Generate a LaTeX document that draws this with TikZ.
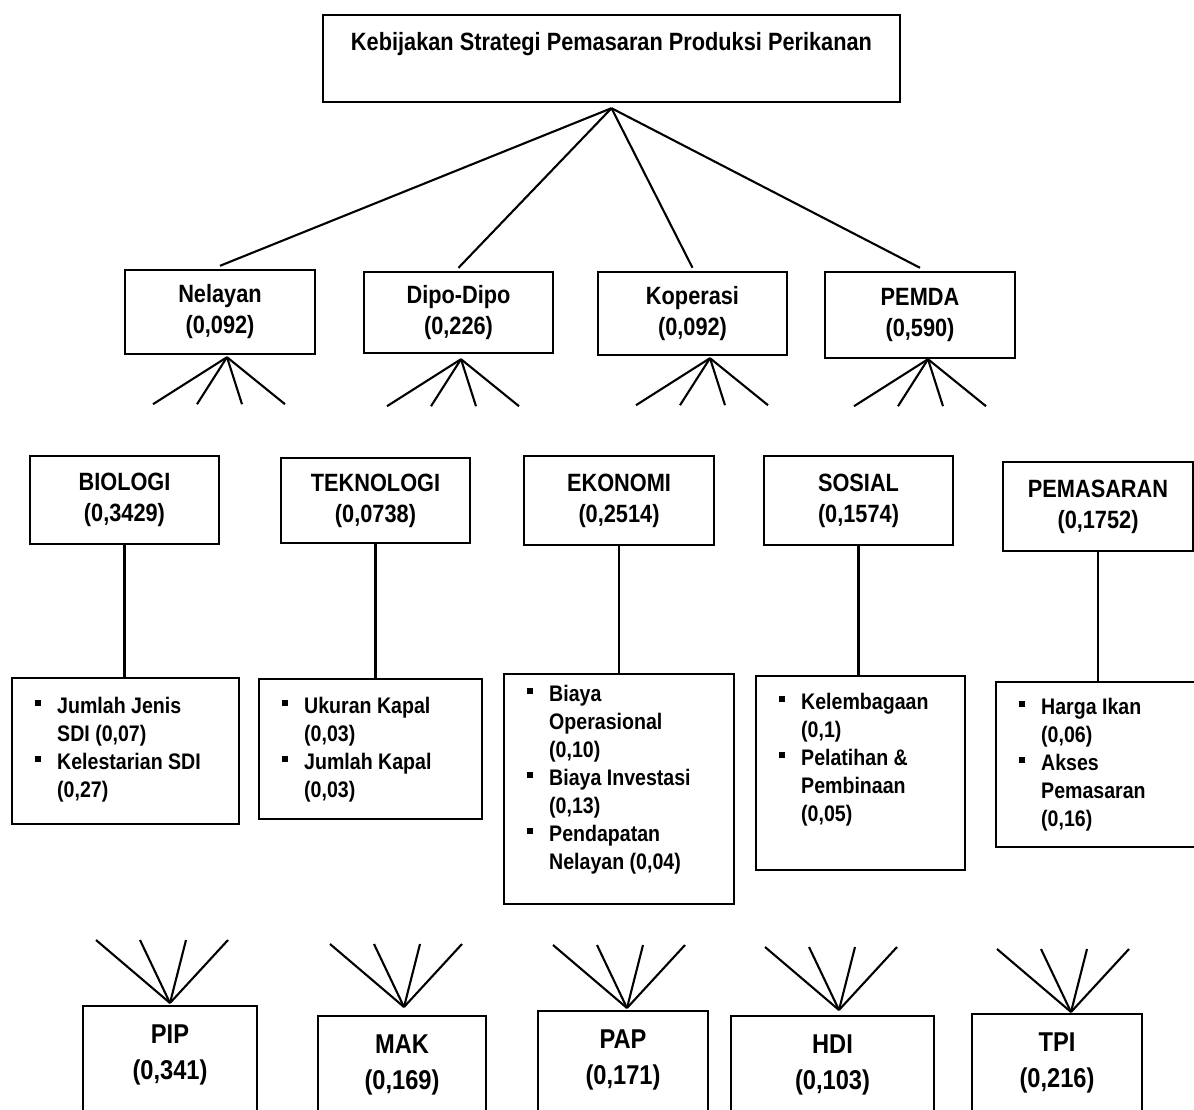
\documentclass[tikz,border=0pt]{standalone}
\usepackage{fontspec}
\setmainfont{Liberation Sans}[FakeStretch=0.87]

\newcommand{\hdrfont}{\bfseries\fontsize{25}{31}\selectfont}
\newcommand{\lstfont}{\bfseries\fontsize{22.5}{28}\selectfont}
\newcommand{\indfont}{\bfseries\fontsize{27.2}{36}\selectfont}
% square bullet and hanging item
\newcommand{\bul}{\makebox[22pt][l]{\rule{0pt}{17pt}\raisebox{7pt}{\rule{6pt}{6pt}}}}
\newcommand{\itm}[1]{\par\noindent\hangindent=22pt\hangafter=1\bul#1}
% body of a list box: height, width, top gap, items
\newcommand{\lstbody}[4]{\parbox[t][#1][t]{#2}{\lstfont\leftskip=23pt\vspace*{#3}#4}}
% body of an indicator box: width, text
\newcommand{\indbody}[2]{\parbox[t][130pt][t]{#1}{\indfont\centering\vspace*{19pt}#2}}

\begin{document}
\begin{tikzpicture}[x=1pt,y=-1pt,
    box/.style={draw,line width=2.4pt,inner sep=0pt},
    hdr/.style={box,align=center,font=\hdrfont},
    link/.style={line width=2.1pt}]
      \useasboundingbox (0,0) rectangle (1194,1110);
      \clip (0,0) rectangle (1194,1110);

      %%%%%%%%%%%%%%%%%%%%%%%%%%%%%%%%%%%%%%%%%%%%%%%%%%%%%%%%%%%%%%%%%%%%%%%%%%%
      %%%%  Goal
      \node[box,font=\hdrfont,minimum width=577pt,minimum height=87pt,
        text height=18pt,text depth=33pt] (goal) at (611.5,58.5)
        {Kebijakan Strategi Pemasaran Produksi Perikanan};

      %%%%%%%%%%%%%%%%%%%%%%%%%%%%%%%%%%%%%%%%%%%%%%%%%%%%%%%%%%%%%%%%%%%%%%%%%%%
      %%%%  Actors
      \node[hdr,minimum width=190pt,minimum height=84pt] (nel) at (220,312) {Nelayan\\(0,092)};
      \node[hdr,minimum width=189pt,minimum height=81pt] (dipo) at (458.5,312.5) {Dipo-Dipo\\(0,226)};
      \node[hdr,minimum width=189pt,minimum height=83pt] (kop) at (692.5,313.5) {Koperasi\\(0,092)};
      \node[hdr,minimum width=190pt,minimum height=86pt] (pemda) at (920,315) {PEMDA\\(0,590)};

      \coordinate (goal-fan) at ([yshift=-5pt]goal.south);
      \foreach \n in {nel,dipo,kop,pemda}
        {\draw[link] (goal-fan) -- ([yshift=3pt]\n.north);};

      \coordinate (nel-fan) at ([xshift=7pt,yshift=-2pt]nel.south);
      \coordinate (dipo-fan) at ([xshift=2.5pt,yshift=-5pt]dipo.south);
      \coordinate (kop-fan) at ([xshift=17.5pt,yshift=-2pt]kop.south);
      \coordinate (pemda-fan) at ([xshift=8pt]pemda.south);
      \foreach \n in {nel,dipo,kop,pemda}
      {\foreach \dx in {-74,-30,15,58}
       {\draw[link] (\n-fan) -- ++(\dx,47);
       }};

      %%%%%%%%%%%%%%%%%%%%%%%%%%%%%%%%%%%%%%%%%%%%%%%%%%%%%%%%%%%%%%%%%%%%%%%%%%%
      %%%%  Aspects
      \node[hdr,minimum width=189pt,minimum height=88pt] (bio) at (124.5,500) {BIOLOGI\\(0,3429)};
      \node[hdr,minimum width=189pt,minimum height=85pt] (tek) at (375.5,500.5) {TEKNOLOGI\\(0,0738)};
      \node[hdr,minimum width=190pt,minimum height=89pt] (eko) at (619,500.5) {EKONOMI\\(0,2514)};
      \node[hdr,minimum width=189pt,minimum height=89pt] (sos) at (858.5,500.5) {SOSIAL\\(0,1574)};
      \node[hdr,minimum width=190pt,minimum height=89pt] (pem) at (1098,506.5) {PEMASARAN\\(0,1752)};

      \node[box,anchor=north west] (bio-list) at (11,677)
        {\lstbody{146pt}{227pt}{18pt}{\itm{Jumlah Jenis\newline SDI (0,07)}%
          \itm{Kelestarian SDI\newline (0,27)}}};
      \node[box,anchor=north west] (tek-list) at (258,678)
        {\lstbody{140pt}{223pt}{17pt}{\itm{Ukuran Kapal\newline (0,03)}%
          \itm{Jumlah Kapal\newline (0,03)}}};
      \node[box,anchor=north west] (eko-list) at (503,673)
        {\lstbody{230pt}{230pt}{10pt}{\itm{Biaya\newline Operasional\newline (0,10)}%
          \itm{Biaya Investasi\newline (0,13)}%
          \itm{Pendapatan\newline Nelayan (0,04)}}};
      \node[box,anchor=north west] (sos-list) at (755,675)
        {\lstbody{194pt}{209pt}{16pt}{\itm{Kelembagaan\newline (0,1)}%
          \itm{Pelatihan \&\newline Pembinaan\newline (0,05)}}};
      \node[box,anchor=north west] (pem-list) at (995,681)
        {\lstbody{165pt}{215pt}{15pt}{\itm{Harga Ikan\newline (0,06)}%
          \itm{Akses\newline Pemasaran\newline (0,16)}}};

      \foreach \n in {bio,tek,eko,sos,pem}
        {\draw[link] (\n.south) -- (\n.south |- \n-list.north);};

      %%%%%%%%%%%%%%%%%%%%%%%%%%%%%%%%%%%%%%%%%%%%%%%%%%%%%%%%%%%%%%%%%%%%%%%%%%%
      %%%%  Indicators
      \node[box,anchor=north] (pip) at (170,1005) {\indbody{174pt}{PIP\\(0,341)}};
      \node[box,anchor=north] (mak) at (402,1015) {\indbody{168pt}{MAK\\(0,169)}};
      \node[box,anchor=north] (pap) at (623,1010) {\indbody{170pt}{PAP\\(0,171)}};
      \node[box,anchor=north] (hdi) at (832.5,1015) {\indbody{203pt}{HDI\\(0,103)}};
      \node[box,anchor=north] (tpi) at (1057,1013) {\indbody{170pt}{TPI\\(0,216)}};

      \coordinate (pip-fan) at ([yshift=2pt]pip.north);
      \coordinate (mak-fan) at ([xshift=2pt,yshift=8pt]mak.north);
      \coordinate (pap-fan) at ([xshift=4pt,yshift=2pt]pap.north);
      \coordinate (hdi-fan) at ([xshift=6.5pt,yshift=5pt]hdi.north);
      \coordinate (tpi-fan) at ([xshift=14pt,yshift=1pt]tpi.north);
      \foreach \n in {pip,mak,pap,hdi,tpi}
      {\foreach \dx in {-74,-30,16,58}
       {\draw[link] (\n-fan) -- ++(\dx,-63);
       }};
    \end{tikzpicture}
\end{document}
